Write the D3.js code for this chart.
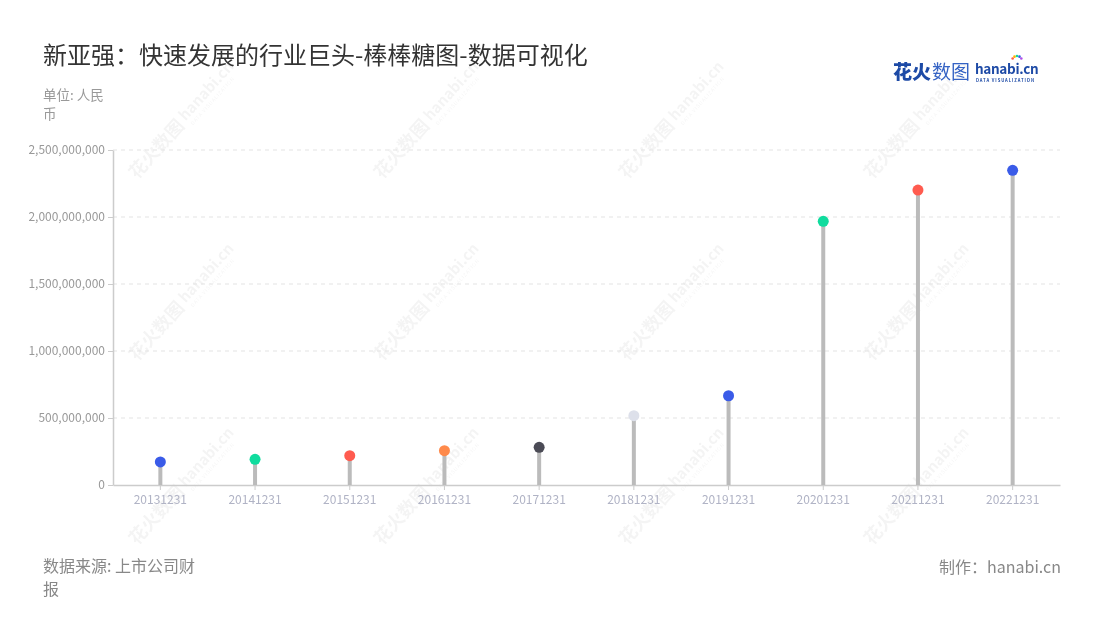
<!DOCTYPE html>
<html>
<head>
<meta charset="utf-8">
<script src="https://cdn.jsdelivr.net/npm/d3@7"></script>
<style>
  html, body { margin: 0; padding: 0; background: #fff; }
  svg { display: block; font-family: "Noto Sans CJK SC", "Noto Sans", sans-serif; }
</style>
</head>
<body>
<svg id="chart" width="1100" height="620"></svg>
<script>
// ---- data ----
const categories = ["20131231","20141231","20151231","20161231","20171231","20181231","20191231","20201231","20211231","20221231"];
const values = [172000000, 192000000, 219000000, 256000000, 281000000, 517000000, 666000000, 1968000000, 2201000000, 2348000000];
const dotColors = ["#3a5be8","#10dc9e","#ff5b4f","#ff8a4b","#4b4b56","#dde0ea","#3a5be8","#10dc9e","#ff5b4f","#3a5be8"];
const yTicks = [0, 500000000, 1000000000, 1500000000, 2000000000, 2500000000];
const title = "新亚强：快速发展的行业巨头-棒棒糖图-数据可视化";
const unitLines = ["单位: 人民", "币"];
const sourceLines = ["数据来源: 上市公司财", "报"];
const credit = "制作：hanabi.cn";

// ---- layout ----
const svg = d3.select("#chart");
const margin = { left: 113, right: 1060, top: 150, bottom: 485 };

const x = d3.scaleBand().domain(categories).range([margin.left, margin.right]).padding(0);
const y = d3.scaleLinear().domain([0, 2500000000]).range([margin.bottom, margin.top]);

// watermarks
const wmGroup = svg.append("g").attr("opacity", 0.045).attr("pointer-events", "none");
const wmXs = [137, 382, 627, 872];
const wmYs = [180, 362, 546];
wmXs.forEach(wx => wmYs.forEach(wy => {
  const g = wmGroup.append("g").attr("transform", `translate(${wx},${wy}) rotate(-48)`);
  g.append("text").attr("x", 0).attr("y", 0).attr("font-size", 18).attr("font-weight", 700)
    .attr("fill", "#000").text("花火数图");
  g.append("text").attr("x", 76).attr("y", -3).attr("font-size", 15).attr("font-weight", 700)
    .attr("fill", "#000").text("hanabi.cn");
  g.append("text").attr("x", 78).attr("y", 5).attr("font-size", 5)
    .attr("fill", "#000").attr("letter-spacing", 0.8).text("DATA VISUALIZATION");
}));

// title
svg.append("text").attr("x", 43).attr("y", 64).attr("font-size", 24).attr("fill", "#333")
  .text(title);

// logo
const logo = svg.append("g").attr("transform", "translate(893,79)");
logo.append("text").attr("x", 0).attr("y", 0).attr("font-size", 19).attr("font-weight", 900)
  .attr("fill", "#1d4aa6").text("花火");
logo.append("text").attr("x", 39).attr("y", 0).attr("font-size", 19).attr("font-weight", 400)
  .attr("fill", "#3563c4").text("数图");
logo.append("text").attr("x", 82).attr("y", -5).attr("font-size", 13.5).attr("font-weight", 700)
  .attr("fill", "#1d4aa6").attr("letter-spacing", -0.3).text("hanabi.cn");
logo.append("text").attr("x", 83).attr("y", 2.5).attr("font-size", 4.2).attr("font-weight", 700)
  .attr("fill", "#1d4aa6").attr("letter-spacing", 0.9).text("DATA VISUALIZATION");
const sparkColors = ["#ff5b4f","#ffb400","#10dc9e","#3a5be8","#b04ce8"];
sparkColors.forEach((c, i) => {
  const ang = -150 + i * 30;
  const r = 5;
  logo.append("circle").attr("cx", 124 + r * Math.cos(ang * Math.PI / 180))
    .attr("cy", -18 + r * Math.sin(ang * Math.PI / 180)).attr("r", 1.3).attr("fill", c);
});

// unit label
unitLines.forEach((t, i) => {
  svg.append("text").attr("x", 43).attr("y", 100 + i * 19).attr("font-size", 13.5)
    .attr("fill", "#999").text(t);
});

// grid
svg.append("g").selectAll("line").data(yTicks.filter(d => d > 0)).join("line")
  .attr("x1", margin.left).attr("x2", margin.right)
  .attr("y1", d => y(d)).attr("y2", d => y(d))
  .attr("stroke", "#e3e3e3").attr("stroke-width", 1).attr("stroke-dasharray", "4,4");

// y axis
const yAxis = svg.append("g").attr("transform", `translate(${margin.left},0)`)
  .call(d3.axisLeft(y).tickValues(yTicks).tickFormat(d3.format(",")).tickSize(5).tickSizeOuter(0).tickPadding(3));
yAxis.select(".domain").attr("stroke", "#ccc").attr("stroke-width", 1.5);
yAxis.selectAll(".tick line").attr("stroke", "#ccc");
yAxis.selectAll(".tick text").attr("fill", "#999").attr("font-size", 12)
  .attr("font-family", "'Noto Sans CJK SC', 'Noto Sans', sans-serif");

// x axis
const xAxis = svg.append("g").attr("transform", `translate(0,${margin.bottom})`)
  .call(d3.axisBottom(x).tickSize(5).tickSizeOuter(0).tickPadding(5));
xAxis.select(".domain").attr("stroke", "#ccc").attr("stroke-width", 1.5);
xAxis.selectAll(".tick line").attr("stroke", "#ccc");
xAxis.selectAll(".tick text").attr("fill", "#b0b3c5").attr("font-size", 12)
  .attr("font-family", "'Noto Sans CJK SC', 'Noto Sans', sans-serif");

// stems
const cx = d => x(d) + x.bandwidth() / 2;
svg.append("g").selectAll("line").data(categories).join("line")
  .attr("x1", cx).attr("x2", cx)
  .attr("y1", y(0)).attr("y2", (d, i) => y(values[i]))
  .attr("stroke", "#bbb").attr("stroke-width", 4);

// dots
svg.append("g").selectAll("circle").data(categories).join("circle")
  .attr("cx", cx).attr("cy", (d, i) => y(values[i])).attr("r", 5.5)
  .attr("fill", (d, i) => dotColors[i]);

// footer
sourceLines.forEach((t, i) => {
  svg.append("text").attr("x", 43).attr("y", 572 + i * 23).attr("font-size", 16)
    .attr("fill", "#888").text(t);
});
svg.append("text").attr("x", 1061).attr("y", 573).attr("text-anchor", "end")
  .attr("font-size", 16).attr("fill", "#888").text(credit);
</script>
</body>
</html>
